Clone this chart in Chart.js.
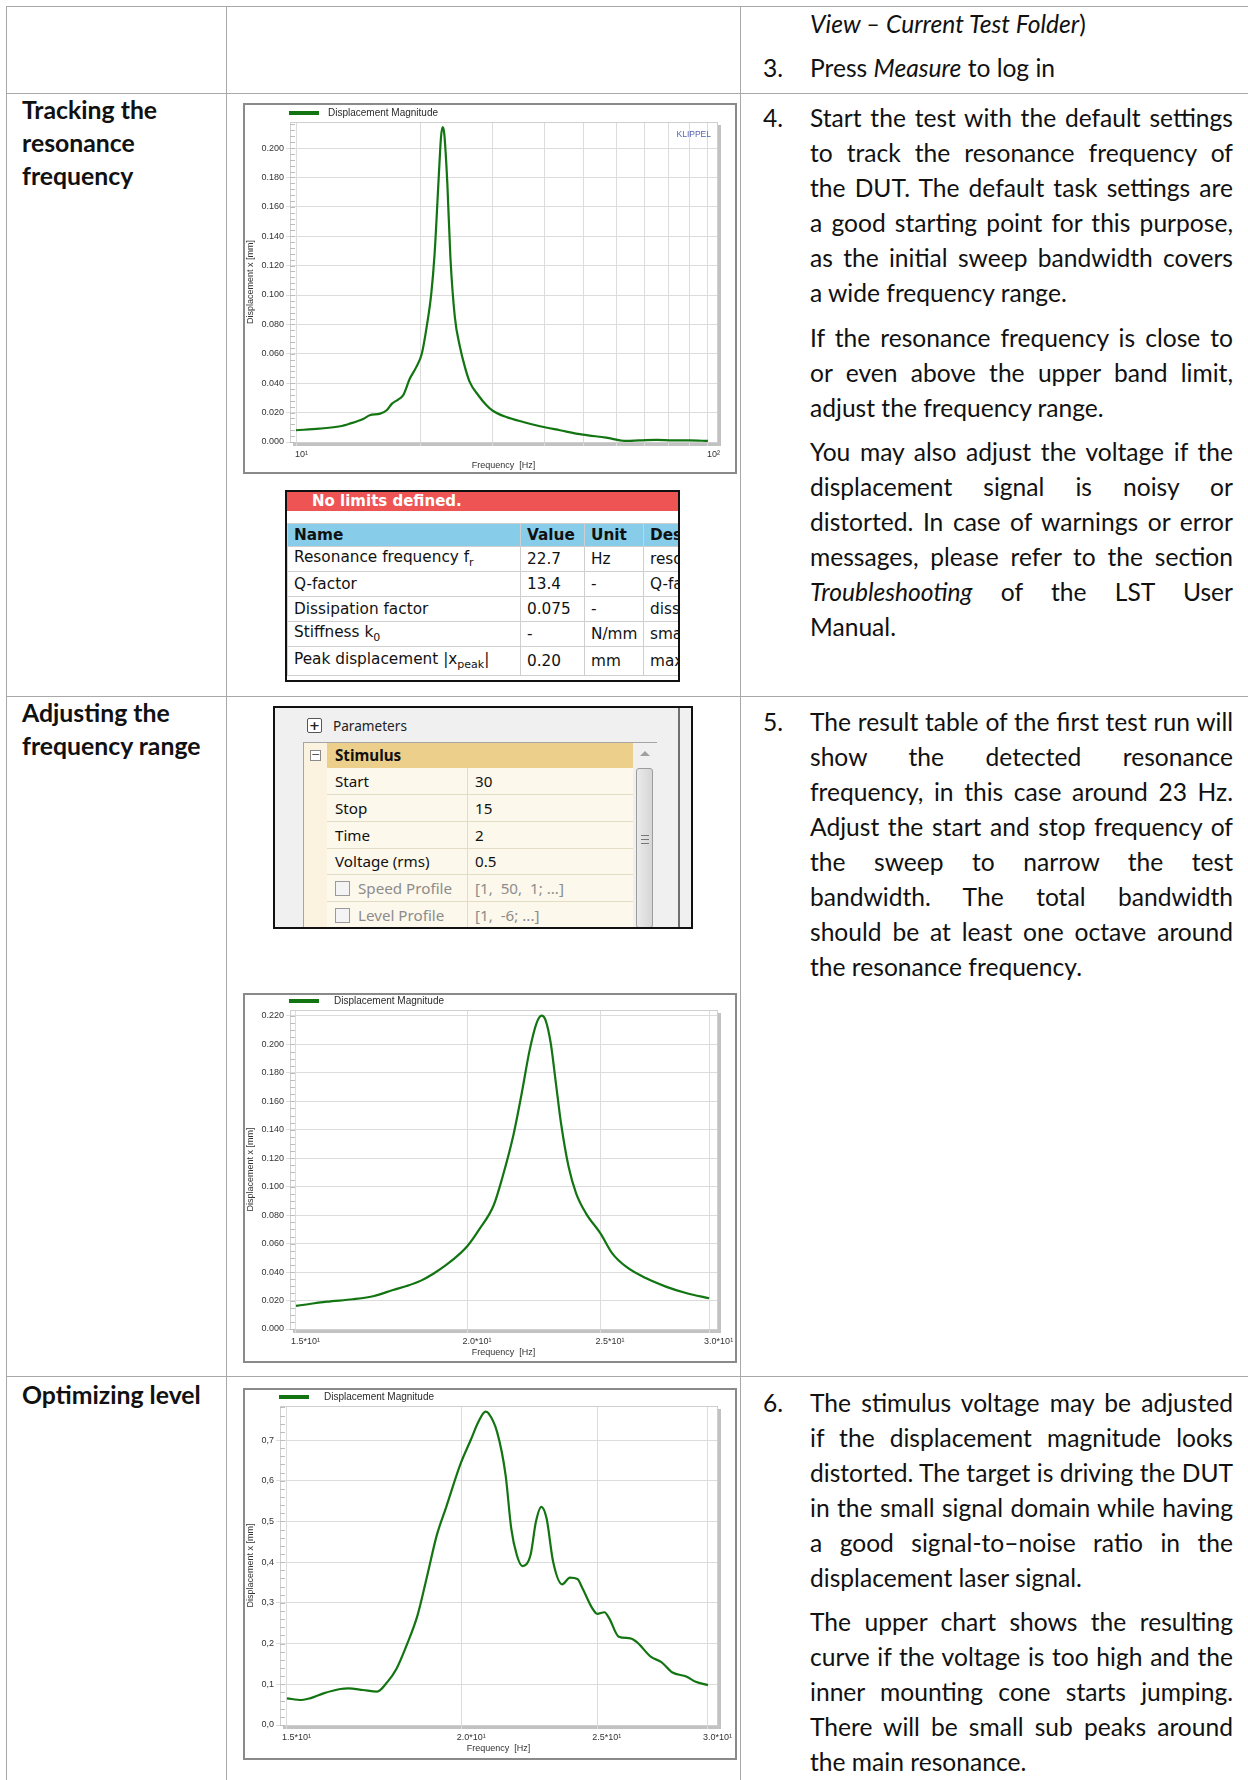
<!DOCTYPE html>
<html>
<head>
<meta charset="utf-8">
<script src="https://cdn.jsdelivr.net/npm/chart.js@4.4.1/dist/chart.umd.min.js"></script>
<style>
  html, body { margin: 0; padding: 0; background: #fff; }
  body { position: relative; width: 1248px; height: 1780px; overflow: hidden; font-family: Lato, sans-serif; color: #111; }
  .hl { position: absolute; height: 1px; background: #a8a8a8; }
  .vl { position: absolute; width: 1px; background: #a8a8a8; }
  .head { position: absolute; left: 22px; font: bold 24.8px/33px Lato, sans-serif; }
  .num { position: absolute; left: 763px; font: 24.6px/35px Lato, sans-serif; }
  .txt { position: absolute; left: 810px; width: 423px; font: 24.6px/35px Lato, sans-serif; }
  .txt div { text-align: justify; text-align-last: justify; white-space: nowrap; }
  .txt div.last { text-align-last: left; }
  .frame { position: absolute; left: 243px; width: 494px; box-sizing: border-box; border: 2px solid #8a8a8a; background: #fff; }
  .frame canvas { display: block; }

  #res { position: absolute; left: 285px; top: 490px; width: 395px; height: 192px; box-sizing: border-box; border: 2px solid #111; overflow: hidden; background: #fff; font-family: "DejaVu Sans", sans-serif; }
  #res .bar { height: 19px; background: #ee5454; color: #fff; font: bold 15px/19px "DejaVu Sans", sans-serif; padding-left: 25px; }
  #res table { position: absolute; left: 0; top: 31px; width: 606px; table-layout: fixed; border-collapse: collapse; font-size: 15.3px; white-space: nowrap; }
  #res td, #res th { border: 1px solid #cfcfcf; padding: 0 6px; text-align: left; overflow: hidden; }
  #res th { background: #87cdea; height: 22px; font-weight: bold; }
  #res td { height: 24px; }
  #res sub { font-size: 11px; }

  #par { position: absolute; left: 273px; top: 706px; width: 420px; height: 223px; box-sizing: border-box; border: 2px solid #111; background: #f0f0f0; overflow: hidden; font-family: "Noto Sans", sans-serif; font-size: 15.2px; }
  #par .plus { position: absolute; left: 32px; top: 10px; width: 13px; height: 13px; border: 1px solid #555; border-radius: 2px; background: #fff; font: bold 13px/13px "DejaVu Sans", sans-serif; text-align: center; color: #222; }
  #par .ptitle { position: absolute; left: 58px; top: 8px; line-height: 19px; color: #222; font-size: 13.6px; }
  #par .sep { position: absolute; left: 403px; top: 0; width: 2px; height: 100%; background: #6f6f6f; }
  #par .grid { position: absolute; left: 28px; top: 34px; width: 354px; height: 220px; box-sizing: border-box; border: 1px solid #a5a5a5; background: #fdf8ec; }
  #par .gut { position: absolute; left: 0; top: 0; width: 23px; height: 100%; background: #fbf3df; }
  #par .minus { position: absolute; left: 6px; top: 7px; width: 9px; height: 9px; border: 1px solid #8a8a8a; background: #fff; font: 11px/8px "DejaVu Sans", sans-serif; text-align: center; color: #555; }
  #par .hdr { position: absolute; left: 23px; top: 0; width: 306px; height: 25px; background: #ebcf8a; font-weight: bold; line-height: 25px; padding-left: 8px; box-sizing: border-box; color: #111; }
  #par .row { position: absolute; left: 23px; width: 306px; height: 27px; box-sizing: border-box; border-bottom: 1px solid #e4dcc4; line-height: 26px; color: #111; }
  #par .row span { position: absolute; top: 0; }
  #par .row .k { left: 0; width: 141px; padding-left: 8px; box-sizing: border-box; border-right: 1px solid #e4dcc4; height: 26px; white-space: nowrap; }
  #par .row .v { left: 148px; white-space: nowrap; }
  #par .row.dim { color: #8c8c8c; }
  #par .cb { display: inline-block; width: 13px; height: 13px; border: 1px solid #9a9a9a; background: #f4f4f4; vertical-align: -2px; margin-right: 8px; }
  #par .sb { position: absolute; left: 329px; top: 0; width: 24px; height: 100%; background: #f0f0f0; }
  #par .up { position: absolute; left: 7px; top: 8px; width: 0; height: 0; border-left: 5px solid transparent; border-right: 5px solid transparent; border-bottom: 5px solid #a0a0a0; }
  #par .thumb { position: absolute; left: 3px; top: 25px; width: 17px; height: 160px; box-sizing: border-box; border: 1px solid #9c9c9c; border-radius: 3px; background: linear-gradient(90deg, #eaeaea, #d6d6d6); }
  #par .grip { position: absolute; left: 4px; top: 66px; width: 8px; height: 7px; border-top: 1px solid #777; border-bottom: 1px solid #777; }
  #par .grip:after { content: ''; position: absolute; left: 0; top: 3px; width: 8px; height: 1px; background: #777; }
</style>
</head>
<body>

<!-- table grid of the document -->
<div class="hl" style="left:6px; top:6px; width:1242px;"></div>
<div class="hl" style="left:6px; top:93px; width:1242px;"></div>
<div class="hl" style="left:6px; top:696px; width:1242px;"></div>
<div class="hl" style="left:6px; top:1376px; width:1242px;"></div>
<div class="vl" style="left:6px; top:6px; height:1774px;"></div>
<div class="vl" style="left:226px; top:6px; height:1774px;"></div>
<div class="vl" style="left:740px; top:6px; height:1774px;"></div>

<!-- left column headings -->
<div class="head" style="top:93px;">Tracking the<br>resonance<br>frequency</div>
<div class="head" style="top:696px;">Adjusting the<br>frequency range</div>
<div class="head" style="top:1378px;">Optimizing level</div>

<!-- right column text -->
<div class="txt" style="top:6px;"><div class="last"><i>View – Current Test Folder</i>)</div></div>
<div class="num" style="top:50px;">3.</div>
<div class="txt" style="top:50px;"><div class="last">Press <i>Measure</i> to log in</div></div>

<div class="num" style="top:100px;">4.</div>
<div class="txt" style="top:100px;">
  <div>Start the test with the default settings</div>
  <div>to track the resonance frequency of</div>
  <div>the DUT. The default task settings are</div>
  <div>a good starting point for this purpose,</div>
  <div>as the initial sweep bandwidth covers</div>
  <div class="last">a wide frequency range.</div>
</div>
<div class="txt" style="top:320px;">
  <div>If the resonance frequency is close to</div>
  <div>or even above the upper band limit,</div>
  <div class="last">adjust the frequency range.</div>
</div>
<div class="txt" style="top:434px;">
  <div>You may also adjust the voltage if the</div>
  <div>displacement signal is noisy or</div>
  <div>distorted. In case of warnings or error</div>
  <div>messages, please refer to the section</div>
  <div><i>Troubleshooting</i> of the LST User</div>
  <div class="last">Manual.</div>
</div>

<div class="num" style="top:704px;">5.</div>
<div class="txt" style="top:704px;">
  <div>The result table of the first test run will</div>
  <div>show the detected resonance</div>
  <div>frequency, in this case around 23 Hz.</div>
  <div>Adjust the start and stop frequency of</div>
  <div>the sweep to narrow the test</div>
  <div>bandwidth. The total bandwidth</div>
  <div>should be at least one octave around</div>
  <div class="last">the resonance frequency.</div>
</div>

<div class="num" style="top:1385px;">6.</div>
<div class="txt" style="top:1385px;">
  <div>The stimulus voltage may be adjusted</div>
  <div>if the displacement magnitude looks</div>
  <div>distorted. The target is driving the DUT</div>
  <div>in the small signal domain while having</div>
  <div>a good signal-to–noise ratio in the</div>
  <div class="last">displacement laser signal.</div>
</div>
<div class="txt" style="top:1604px;">
  <div>The upper chart shows the resulting</div>
  <div>curve if the voltage is too high and the</div>
  <div>inner mounting cone starts jumping.</div>
  <div>There will be small sub peaks around</div>
  <div class="last">the main resonance.</div>
</div>

<!-- charts -->
<div class="frame" style="top:103px; height:371px;"><canvas id="chart1" width="490" height="367"></canvas></div>
<div class="frame" style="top:993px; height:370px;"><canvas id="chart2" width="490" height="366"></canvas></div>
<div class="frame" style="top:1388px; height:372px;"><canvas id="chart3" width="490" height="368"></canvas></div>

<!-- result table -->
<div id="res">
  <div class="bar">No limits defined.</div>
  <table>
    <colgroup><col style="width:233px;"><col style="width:64px;"><col style="width:59px;"><col style="width:250px;"></colgroup>
    <tr><th>Name</th><th>Value</th><th>Unit</th><th>Description</th></tr>
    <tr><td>Resonance frequency f<sub>r</sub></td><td>22.7</td><td>Hz</td><td>resonance frequency</td></tr>
    <tr><td>Q-factor</td><td>13.4</td><td>-</td><td>Q-factor of the resonance</td></tr>
    <tr><td>Dissipation factor</td><td>0.075</td><td>-</td><td>dissipation factor</td></tr>
    <tr><td>Stiffness k<sub>0</sub></td><td>-</td><td>N/mm</td><td>small signal stiffness</td></tr>
    <tr><td style="height:28px;">Peak displacement |x<sub>peak</sub>|</td><td>0.20</td><td>mm</td><td>maximal displacement</td></tr>
  </table>
</div>

<!-- parameter panel -->
<div id="par">
  <div class="plus">+</div>
  <div class="ptitle">Parameters</div>
  <div class="sep"></div>
  <div class="grid">
    <div class="gut"><div class="minus">−</div></div>
    <div class="hdr">Stimulus</div>
    <div class="row" style="top:25px;"><span class="k">Start</span><span class="v">30</span></div>
    <div class="row" style="top:52px;"><span class="k">Stop</span><span class="v">15</span></div>
    <div class="row" style="top:79px;"><span class="k">Time</span><span class="v">2</span></div>
    <div class="row" style="top:105px;"><span class="k">Voltage (rms)</span><span class="v">0.5</span></div>
    <div class="row dim" style="top:132px;"><span class="k"><i class="cb"></i>Speed Profile</span><span class="v">[1,&nbsp; 50,&nbsp; 1; ...]</span></div>
    <div class="row dim" style="top:159px;"><span class="k"><i class="cb"></i>Level Profile</span><span class="v">[1,&nbsp; -6; ...]</span></div>
    <div class="sb"><div class="up"></div><div class="thumb"><div class="grip"></div></div></div>
  </div>
</div>

<script>
'use strict';

// Wide sweep, 10 Hz .. 100 Hz
let freq1 = [10, 11.4, 12.8, 13.5, 14.6, 15.1, 16.0, 16.6, 17.1, 17.7, 18.2, 18.9, 19.6, 20.2, 20.75, 21.3, 21.7, 22.1, 22.3, 22.5, 22.7, 22.9, 23.3, 23.7, 24.3, 25.0, 25.7, 26.4, 27.7, 29.0, 30.1, 32.4, 35.6, 39.1, 43.7, 49.7, 56.6, 63.4, 68.2, 75, 82.3, 90.3, 100];
let disp1 = [0.0080, 0.0091, 0.0107, 0.0125, 0.0159, 0.0182, 0.0193, 0.0216, 0.0261, 0.0289, 0.0318, 0.0432, 0.0511, 0.0600, 0.0780, 0.1010, 0.1280, 0.1690, 0.1900, 0.2080, 0.2143, 0.2100, 0.1760, 0.1260, 0.0850, 0.0648, 0.0511, 0.0409, 0.0318, 0.0250, 0.0211, 0.0170, 0.0136, 0.0107, 0.0080, 0.0050, 0.0030, 0.0007, 0.0011, 0.0014, 0.0011, 0.0011, 0.0007];
let xTicks1 = [10, 20, 30, 40, 50, 60, 70, 80, 90, 100];
let xLabels1 = ['10¹', '', '', '', '', '', '', '', '', '10²'];
let yTicks1 = [0, 0.02, 0.04, 0.06, 0.08, 0.10, 0.12, 0.14, 0.16, 0.18, 0.20];
let yLabels1 = ['0.000', '0.020', '0.040', '0.060', '0.080', '0.100', '0.120', '0.140', '0.160', '0.180', '0.200'];

// Narrow sweep, 15 Hz .. 30 Hz
let freq2 = [15, 15.8, 16.5, 17.1, 17.65, 18.06, 18.5, 18.9, 19.3, 19.75, 20, 20.4, 20.9, 21.2, 21.6, 21.9, 22.2, 22.46, 22.65, 22.8, 23.0, 23.2, 23.4, 23.7, 24.0, 24.4, 25, 25.5, 26.1, 27.0, 27.9, 28.9, 30];
let disp2 = [0.0162, 0.0192, 0.0209, 0.0232, 0.0274, 0.0302, 0.0340, 0.0390, 0.0450, 0.0530, 0.0583, 0.0700, 0.0870, 0.1060, 0.1360, 0.1650, 0.1960, 0.2150, 0.2202, 0.2170, 0.2008, 0.1727, 0.1446, 0.1140, 0.0954, 0.0813, 0.0672, 0.0532, 0.0438, 0.0356, 0.0298, 0.0251, 0.0216];
let xTicks2 = [15, 20, 25, 30];
let xLabels2 = ['1.5*10¹', '2.0*10¹', '2.5*10¹', '3.0*10¹'];
let yTicks2 = [0, 0.02, 0.04, 0.06, 0.08, 0.10, 0.12, 0.14, 0.16, 0.18, 0.20, 0.22];
let yLabels2 = ['0.000', '0.020', '0.040', '0.060', '0.080', '0.100', '0.120', '0.140', '0.160', '0.180', '0.200', '0.220'];

// Voltage too high, 15 Hz .. 30 Hz
let freq3 = [15, 15.37, 15.58, 15.93, 16.38, 16.6, 17.0, 17.4, 17.7, 17.97, 18.27, 18.6, 18.9, 19.2, 19.5, 19.95, 20.3, 20.56, 20.8, 20.9, 21.2, 21.5, 21.7, 21.9, 22.1, 22.4, 22.6, 22.8, 23.0, 23.25, 23.6, 23.9, 24.2, 24.4, 24.8, 25.0, 25.3, 25.5, 25.9, 26.4, 26.7, 27.3, 27.8, 28.3, 28.95, 29.4, 30];
let disp3 = [0.0655, 0.0614, 0.0655, 0.0778, 0.0884, 0.0900, 0.0860, 0.0820, 0.1060, 0.1390, 0.1965, 0.2700, 0.3680, 0.4670, 0.5360, 0.6390, 0.7000, 0.7450, 0.7700, 0.7660, 0.7200, 0.6140, 0.4830, 0.4175, 0.3905, 0.4175, 0.4990, 0.5360, 0.5076, 0.4010, 0.3455, 0.3620, 0.3585, 0.3360, 0.2865, 0.2730, 0.2770, 0.2620, 0.2170, 0.2130, 0.2030, 0.1680, 0.1540, 0.1290, 0.1190, 0.1060, 0.0980];
let xTicks3 = [15, 20, 25, 30];
let xLabels3 = ['1.5*10¹', '2.0*10¹', '2.5*10¹', '3.0*10¹'];
let yTicks3 = [0, 0.1, 0.2, 0.3, 0.4, 0.5, 0.6, 0.7];
let yLabels3 = ['0,0', '0,1', '0,2', '0,3', '0,4', '0,5', '0,6', '0,7'];

let seriesName = 'Displacement Magnitude';
let xTitle = 'Frequency  [Hz]';
let yTitle = 'Displacement x [mm]';
let lineColor = '#127512';
let axisFont = { family: 'Liberation Sans, Arial, sans-serif', size: 9 };

// Grey drop shadow and light border round the plot area
const plotFrame = {
  id: 'plotFrame',
  beforeDraw(chart) {
    const {ctx, chartArea: a} = chart;
    ctx.save();
    ctx.fillStyle = '#c2c2c2';
    ctx.fillRect(a.right, a.top + 3, 4, a.bottom - a.top + 1);
    ctx.fillRect(a.left + 3, a.bottom, a.right - a.left + 1, 4);
    ctx.restore();
  },
  afterDraw(chart, args, opts) {
    const {ctx, chartArea: a} = chart;
    const y = chart.scales.y;
    ctx.save();
    ctx.strokeStyle = '#cfcfcf';
    ctx.lineWidth = 1;
    ctx.strokeRect(a.left + 0.5, a.top + 0.5, a.right - a.left, a.bottom - a.top);
    // minor ticks along the left edge
    ctx.strokeStyle = '#bdbdbd';
    ctx.beginPath();
    for (let v = 0; v <= y.max + 1e-9; v += opts.minor) {
      let py = Math.round(y.getPixelForValue(v)) + 0.5;
      ctx.moveTo(a.left, py);
      ctx.lineTo(a.left + 5, py);
    }
    ctx.stroke();
    ctx.restore();
  }
};

// Legend line at the top-left and the optional KLIPPEL mark
const legendLine = {
  id: 'legendLine',
  afterDraw(chart, args, opts) {
    const {ctx} = chart;
    ctx.save();
    ctx.strokeStyle = lineColor;
    ctx.lineWidth = 4;
    ctx.beginPath();
    ctx.moveTo(opts.x, opts.y);
    ctx.lineTo(opts.x + 30, opts.y);
    ctx.stroke();
    ctx.fillStyle = '#2a2a2a';
    ctx.font = '10px "Liberation Sans", Arial, sans-serif';
    ctx.textBaseline = 'middle';
    ctx.fillText(chart.data.datasets[0].label, opts.textX, opts.y);
    if (opts.mark) {
      ctx.fillStyle = '#5563b0';
      ctx.font = '8.5px "Liberation Sans", Arial, sans-serif';
      ctx.textAlign = 'right';
      ctx.fillText(opts.mark, opts.markX, opts.markY);
    }
    ctx.restore();
  }
};

function buildChart(canvasId, freq, disp, xTicks, xLabels, yTicks, yLabels, box) {
  let points = [];
  for (let i = 0; i < freq.length; i++) {
    points.push({x: freq[i], y: disp[i]});
  }
  return new Chart(document.getElementById(canvasId), {
    type: 'line',
    data: {
      datasets: [{
        label: seriesName,
        data: points,
        borderColor: lineColor,
        borderWidth: 2.2,
        pointRadius: 0,
        fill: false,
        cubicInterpolationMode: 'monotone'
      }]
    },
    options: {
      responsive: false,
      animation: false,
      devicePixelRatio: 1,
      layout: { padding: { top: box.top, right: box.right, left: 0, bottom: 0 } },
      plugins: {
        legend: { display: false },
        tooltip: { enabled: false },
        plotFrame: { minor: box.minor },
        legendLine: box.legend
      },
      scales: {
        x: {
          type: 'logarithmic',
          min: box.xMin,
          max: box.xMax,
          afterBuildTicks: (axis) => { axis.ticks = xTicks.map(v => ({value: v})); },
          afterFit: (axis) => { axis.height = box.xHeight; axis.paddingLeft = 0; axis.paddingRight = 0; },
          grid: { color: '#dcdcdc', tickLength: 4 },
          border: { color: '#c8c8c8' },
          ticks: {
            autoSkip: false, maxRotation: 0, align: 'start', labelOffset: box.labelOffset,
            padding: 3, font: axisFont, color: '#333',
            callback: (v, i) => xLabels[i]
          },
          title: { display: true, text: xTitle, font: axisFont, color: '#333', padding: { top: 0, bottom: box.xTitlePad } }
        },
        y: {
          min: 0,
          max: box.yMax,
          afterBuildTicks: (axis) => { axis.ticks = yTicks.map(v => ({value: v})); },
          afterFit: (axis) => { axis.width = box.yWidth; axis.paddingTop = 0; axis.paddingBottom = 0; },
          grid: { color: '#dcdcdc', tickLength: 4 },
          border: { color: '#c8c8c8' },
          ticks: { padding: 2, font: axisFont, color: '#333', callback: (v, i) => yLabels[i] },
          title: { display: true, text: yTitle, font: axisFont, color: '#333', padding: 0 }
        }
      }
    },
    plugins: [plotFrame, legendLine]
  });
}

buildChart('chart1', freq1, disp1, xTicks1, xLabels1, yTicks1, yLabels1, {
  top: 17, right: 18, yWidth: 45, xHeight: 30, xTitlePad: 1, labelOffset: -1,
  xMin: 9.67, xMax: 105.2, yMax: 0.2177, minor: 0.004,
  legend: { x: 44, y: 8, textX: 83, mark: 'KLIPPEL', markX: 466, markY: 30 }
});
buildChart('chart2', freq2, disp2, xTicks2, xLabels2, yTicks2, yLabels2, {
  top: 15, right: 18, yWidth: 45, xHeight: 32, xTitlePad: 3.5, labelOffset: -5,
  xMin: 14.85, xMax: 30.4, yMax: 0.2242, minor: 0.005,
  legend: { x: 44, y: 6, textX: 89 }
});
buildChart('chart3', freq3, disp3, xTicks3, xLabels3, yTicks3, yLabels3, {
  top: 16, right: 18, yWidth: 35, xHeight: 33, xTitlePad: 4.5, labelOffset: -5,
  xMin: 14.83, xMax: 30.45, yMax: 0.7836, minor: 0.02,
  legend: { x: 34, y: 7, textX: 79 }
});
</script>
</body>
</html>
